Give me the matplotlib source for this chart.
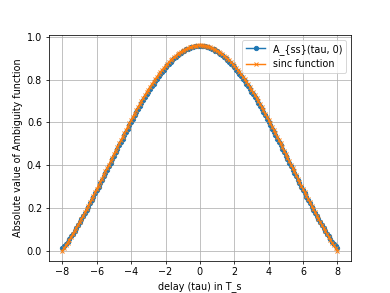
import numpy as np
import matplotlib
matplotlib.use("Agg")
import matplotlib.pyplot as plt

########### Ambiguity function vs sinc #########

# delay axis in units of T_s, step 0.1
tau = np.round(np.arange(-80, 81) / 10.0, 1)

# |A_ss(tau, 0)|
a_ss = [0.013, 0.021, 0.031, 0.042, 0.054, 0.066, 0.079, 0.092, 0.105, 0.119,
        0.133, 0.147, 0.161, 0.176, 0.191, 0.206, 0.221, 0.236, 0.252, 0.267,
        0.283, 0.299, 0.315, 0.331, 0.347, 0.363, 0.379, 0.395, 0.411, 0.428,
        0.444, 0.460, 0.476, 0.492, 0.508, 0.524, 0.540, 0.556, 0.571, 0.587,
        0.602, 0.617, 0.632, 0.647, 0.662, 0.676, 0.690, 0.704, 0.718, 0.731,
        0.744, 0.757, 0.769, 0.781, 0.793, 0.805, 0.816, 0.827, 0.837, 0.847,
        0.857, 0.866, 0.875, 0.884, 0.892, 0.899, 0.907, 0.914, 0.920, 0.926,
        0.932, 0.936, 0.941, 0.945, 0.948, 0.951, 0.954, 0.956, 0.957, 0.958,
        0.958, 0.958, 0.957, 0.956, 0.954, 0.951, 0.948, 0.945, 0.941, 0.936,
        0.932, 0.926, 0.920, 0.914, 0.907, 0.899, 0.892, 0.884, 0.875, 0.866,
        0.857, 0.847, 0.837, 0.827, 0.816, 0.805, 0.793, 0.781, 0.769, 0.757,
        0.744, 0.731, 0.718, 0.704, 0.690, 0.676, 0.662, 0.647, 0.632, 0.617,
        0.602, 0.587, 0.571, 0.556, 0.540, 0.524, 0.508, 0.492, 0.476, 0.460,
        0.444, 0.428, 0.411, 0.395, 0.379, 0.363, 0.347, 0.331, 0.315, 0.299,
        0.283, 0.267, 0.252, 0.236, 0.221, 0.206, 0.191, 0.176, 0.161, 0.147,
        0.133, 0.119, 0.105, 0.092, 0.079, 0.066, 0.054, 0.042, 0.031, 0.021,
        0.013]

# sinc reference curve
sinc_vals = [0.000, 0.012, 0.025, 0.037, 0.050, 0.064, 0.077, 0.091, 0.105, 0.119,
             0.134, 0.148, 0.163, 0.178, 0.194, 0.209, 0.225, 0.240, 0.256, 0.272,
             0.288, 0.304, 0.320, 0.337, 0.353, 0.370, 0.386, 0.402, 0.419, 0.435,
             0.452, 0.468, 0.484, 0.501, 0.517, 0.533, 0.549, 0.565, 0.580, 0.596,
             0.611, 0.626, 0.641, 0.656, 0.671, 0.685, 0.699, 0.713, 0.727, 0.740,
             0.753, 0.766, 0.778, 0.790, 0.802, 0.813, 0.824, 0.835, 0.845, 0.855,
             0.864, 0.873, 0.882, 0.890, 0.898, 0.905, 0.912, 0.919, 0.925, 0.930,
             0.936, 0.940, 0.944, 0.948, 0.951, 0.954, 0.956, 0.958, 0.959, 0.960,
             0.960, 0.960, 0.959, 0.958, 0.956, 0.954, 0.951, 0.948, 0.944, 0.940,
             0.936, 0.930, 0.925, 0.919, 0.912, 0.905, 0.898, 0.890, 0.882, 0.873,
             0.864, 0.855, 0.845, 0.835, 0.824, 0.813, 0.802, 0.790, 0.778, 0.766,
             0.753, 0.740, 0.727, 0.713, 0.699, 0.685, 0.671, 0.656, 0.641, 0.626,
             0.611, 0.596, 0.580, 0.565, 0.549, 0.533, 0.517, 0.501, 0.484, 0.468,
             0.452, 0.435, 0.419, 0.402, 0.386, 0.370, 0.353, 0.337, 0.320, 0.304,
             0.288, 0.272, 0.256, 0.240, 0.225, 0.209, 0.194, 0.178, 0.163, 0.148,
             0.134, 0.119, 0.105, 0.091, 0.077, 0.064, 0.050, 0.037, 0.025, 0.012,
             0.000]

labels = ["A_{ss}(tau, 0)", "sinc function"]

dpi = 69
plt.figure(figsize=(390 / dpi, 293 / dpi), dpi=dpi)
plt.plot(tau, a_ss, "o-", markersize=4.5, label=labels[0])
plt.plot(tau, sinc_vals, "x-", markersize=4.5, label=labels[1])
plt.xlabel("delay (tau) in T_s")
plt.ylabel("Absolute value of Ambiguity function")
plt.grid(True)
plt.legend(loc="upper right")
plt.savefig("out.png", dpi=dpi)
